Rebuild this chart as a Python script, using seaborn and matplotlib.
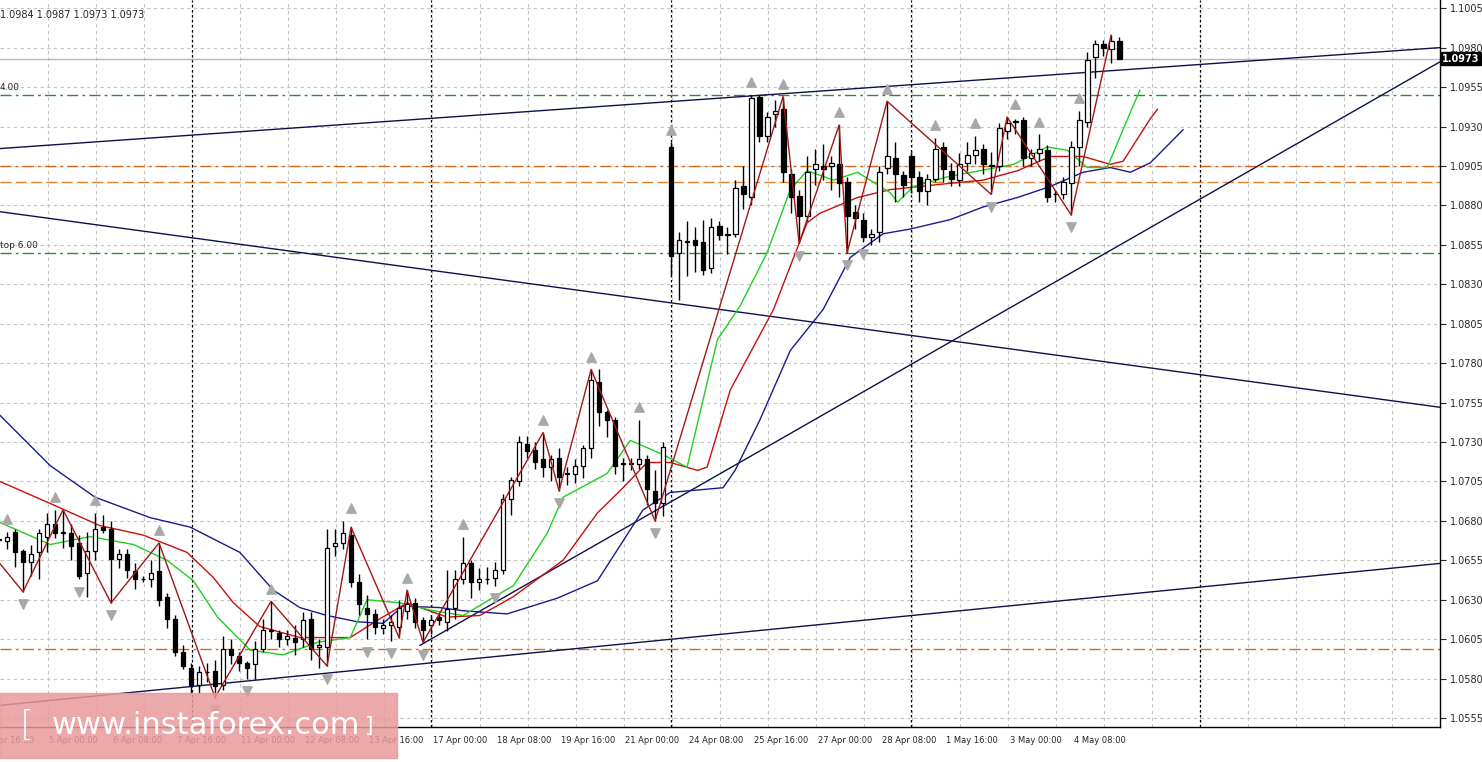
import numpy as np
import matplotlib
matplotlib.use("Agg")
import matplotlib.pyplot as plt
import matplotlib.transforms as mtransforms
import seaborn as sns

# ---- EURUSD H4 candles, index -1..139 ----
idx = list(range(-1, 140))
opens = [1.0668,1.0667,1.0673,1.0661,1.0654,1.0660,1.0670,1.0678,1.0672,1.0672,1.0666,1.0647,1.0661,1.0676,1.0675,1.0656,1.0659,1.0648,1.0643,1.0643,
         1.0648,1.0632,1.0618,1.0597,1.0587,1.0576,1.0584,1.0585,1.0576,1.0599,1.0594,1.0590,1.0589,1.0599,1.0611,1.0609,1.0605,1.0606,1.0605,1.0618,
         1.0600,1.0600,1.0664,1.0666,1.0671,1.0641,1.0625,1.0621,1.0612,1.0614,1.0613,1.0623,1.0628,1.0617,1.0614,1.0619,1.0616,1.0625,1.0643,1.0653,
         1.0641,1.0643,1.0644,1.0649,1.0694,1.0705,1.0729,1.0725,1.0719,1.0714,1.0720,1.0710,1.0710,1.0715,1.0726,1.0768,1.0749,1.0744,1.0716,1.0716,
         1.0716,1.0719,1.0699,1.0691,1.0917,1.0850,1.0857,1.0858,1.0857,1.0840,1.0867,1.0861,1.0862,1.0892,1.0885,1.0949,1.0924,1.0938,1.0941,1.0900,
         1.0886,1.0873,1.0903,1.0905,1.0905,1.0906,1.0895,1.0876,1.0871,1.0860,1.0863,1.0904,1.0910,1.0899,1.0911,1.0898,1.0889,1.0897,1.0917,1.0902,
         1.0896,1.0907,1.0912,1.0916,1.0905,1.0905,1.0927,1.0933,1.0934,1.0910,1.0913,1.0915,1.0887,1.0887,1.0894,1.0917,1.0933,1.0974,1.0982,1.0979,
         1.0984]
highs = [1.0670,1.0673,1.0675,1.0662,1.0665,1.0675,1.0685,1.0687,1.0687,1.0678,1.0671,1.0673,1.0685,1.0684,1.0680,1.0662,1.0662,1.0653,1.0645,1.0655,
         1.0666,1.0634,1.0620,1.0601,1.0590,1.0588,1.0590,1.0592,1.0607,1.0605,1.0597,1.0591,1.0604,1.0618,1.0629,1.0611,1.0611,1.0614,1.0622,1.0622,
         1.0605,1.0675,1.0675,1.0680,1.0676,1.0646,1.0633,1.0624,1.0618,1.0620,1.0630,1.0636,1.0631,1.0619,1.0620,1.0621,1.0649,1.0649,1.0670,1.0655,
         1.0650,1.0651,1.0654,1.0697,1.0708,1.0734,1.0734,1.0730,1.0736,1.0722,1.0726,1.0714,1.0719,1.0728,1.0776,1.0776,1.0750,1.0746,1.0720,1.0720,
         1.0744,1.0722,1.0712,1.0730,1.0920,1.0863,1.0870,1.0866,1.0871,1.0872,1.0870,1.0866,1.0896,1.0905,1.0950,1.0950,1.0939,1.0947,1.0949,1.0903,
         1.0890,1.0911,1.0916,1.0919,1.0911,1.0931,1.0898,1.0880,1.0875,1.0865,1.0905,1.0946,1.0920,1.0902,1.0914,1.0902,1.0900,1.0923,1.0920,1.0907,
         1.0913,1.0920,1.0924,1.0919,1.0914,1.0932,1.0936,1.0935,1.0936,1.0916,1.0925,1.0918,1.0890,1.0898,1.0921,1.0940,1.0977,1.0985,1.0985,1.0988,
         1.0987]
lows = [1.0666,1.0662,1.0651,1.0635,1.0645,1.0643,1.0660,1.0669,1.0663,1.0655,1.0643,1.0632,1.0655,1.0672,1.0628,1.0650,1.0644,1.0637,1.0641,1.0638,
        1.0626,1.0612,1.0594,1.0586,1.0570,1.0571,1.0578,1.0568,1.0573,1.0589,1.0585,1.0580,1.0580,1.0597,1.0605,1.0600,1.0601,1.0595,1.0600,1.0592,
        1.0587,1.0588,1.0658,1.0662,1.0638,1.0620,1.0605,1.0608,1.0608,1.0604,1.0606,1.0618,1.0612,1.0603,1.0608,1.0614,1.0610,1.0618,1.0640,1.0631,
        1.0636,1.0640,1.0639,1.0646,1.0684,1.0702,1.0720,1.0713,1.0708,1.0705,1.0699,1.0703,1.0704,1.0707,1.0720,1.0740,1.0733,1.0710,1.0705,1.0712,
        1.0713,1.0690,1.0680,1.0683,1.0835,1.0820,1.0835,1.0838,1.0836,1.0837,1.0858,1.0849,1.0860,1.0878,1.0880,1.0920,1.0920,1.0930,1.0895,1.0875,
        1.0856,1.0870,1.0893,1.0896,1.0890,1.0885,1.0850,1.0865,1.0857,1.0855,1.0857,1.0900,1.0882,1.0885,1.0888,1.0882,1.0880,1.0895,1.0895,1.0892,
        1.0892,1.0902,1.0906,1.0900,1.0887,1.0902,1.0922,1.0925,1.0905,1.0905,1.0908,1.0882,1.0882,1.0884,1.0874,1.0905,1.0930,1.0961,1.0975,1.0970,
        1.0973]
closes = [1.0668,1.0670,1.0660,1.0654,1.0659,1.0672,1.0678,1.0672,1.0673,1.0664,1.0645,1.0661,1.0675,1.0674,1.0656,1.0659,1.0649,1.0643,1.0643,1.0647,
          1.0630,1.0618,1.0597,1.0588,1.0576,1.0584,1.0584,1.0575,1.0599,1.0595,1.0590,1.0587,1.0599,1.0611,1.0610,1.0605,1.0607,1.0603,1.0617,1.0599,
          1.0601,1.0663,1.0666,1.0672,1.0641,1.0627,1.0621,1.0613,1.0614,1.0616,1.0625,1.0627,1.0616,1.0611,1.0617,1.0617,1.0624,1.0643,1.0653,1.0641,
          1.0643,1.0643,1.0649,1.0694,1.0706,1.0730,1.0724,1.0717,1.0714,1.0719,1.0708,1.0710,1.0715,1.0726,1.0769,1.0749,1.0744,1.0715,1.0716,1.0716,
          1.0719,1.0700,1.0691,1.0727,1.0848,1.0858,1.0857,1.0855,1.0839,1.0866,1.0861,1.0862,1.0891,1.0887,1.0948,1.0924,1.0936,1.0940,1.0901,1.0885,
          1.0873,1.0901,1.0906,1.0903,1.0907,1.0894,1.0873,1.0872,1.0860,1.0862,1.0901,1.0911,1.0900,1.0893,1.0898,1.0889,1.0897,1.0916,1.0903,1.0897,
          1.0906,1.0912,1.0915,1.0906,1.0905,1.0929,1.0932,1.0933,1.0910,1.0913,1.0916,1.0885,1.0887,1.0895,1.0917,1.0934,1.0972,1.0982,1.0980,1.0984,
          1.0973]

# ---- Alligator lines ----
jaw_x = [-0.9,5.4,11,17.9,22.9,29.1,33.3,36.6,40,43.8,47,49.5,54.1,57,62.5,68.8,73.8,79.5,82.9,89.5,91,94.1,97.9,102,105.4,109.5,112.9,117.9,122,126.3,130.4,134.5,137.9,140.4,142.9,147]
jaw_y = [1.0747,1.0715,1.0695,1.0682,1.0676,1.0660,1.0636,1.0625,1.0620,1.0616,1.0615,1.0626,1.0625,1.0623,1.0621,1.0631,1.0642,1.0687,1.0698,1.0701,1.0712,1.0744,1.0788,1.0814,1.0847,1.0862,1.0865,1.0871,1.0879,1.0885,1.0892,1.0901,1.0904,1.0901,1.0907,1.0928]
teeth_x = [-0.9,5.4,11.6,17,22.5,25.8,28.3,31.6,36.6,42.9,46.3,50,55,59.1,63.3,69.5,73.8,77,80,82.9,86.3,87.5,90.4,95.8,100,101.6,106.3,110.4,117.9,122,126.3,130.4,134.5,137.9,139.5,142.9,143.8]
teeth_y = [1.0705,1.0691,1.0677,1.0671,1.0660,1.0644,1.0628,1.0613,1.0606,1.0606,1.0617,1.0628,1.0619,1.0620,1.0632,1.0655,1.0685,1.0701,1.0717,1.0717,1.0712,1.0714,1.0763,1.0814,1.0869,1.0875,1.0885,1.0890,1.0894,1.0896,1.0902,1.0911,1.0911,1.0906,1.0908,1.0935,1.0941]
lips_x = [-0.9,5.4,10.4,15.8,20,23.3,26.3,30.4,34.5,38.8,42.9,45,49.1,53.3,57,63.3,67.5,69.5,75,77.9,82,85,86.3,88.8,91.6,95,97.9,100,103.3,106.3,110.4,111.3,113.3,117.5,121.6,125.8,130,132.5,135,137.5,140.4,141.6]
lips_y = [1.0679,1.0665,1.0670,1.0665,1.0655,1.0642,1.0619,1.0598,1.0595,1.0603,1.0606,1.0630,1.0628,1.0623,1.0620,1.0639,1.0672,1.0695,1.0710,1.0731,1.0722,1.0714,1.0742,1.0795,1.0816,1.0850,1.0890,1.0902,1.0896,1.0901,1.0888,1.0882,1.0892,1.0898,1.0902,1.0906,1.0917,1.0915,1.0904,1.0904,1.0939,1.0953]

# ---- ZigZag ----
zz_x = [-0.9,2,7,13,19,26,33,40,43,49,50,52,67,69,73,81,97,99,104,105,110,123,125,133,138]
zz_y = [1.0653,1.0635,1.0687,1.0628,1.0666,1.0568,1.0629,1.0588,1.0676,1.0606,1.0636,1.0603,1.0736,1.0699,1.0776,1.0680,1.0949,1.0856,1.0931,1.0850,1.0946,1.0887,1.0936,1.0874,1.0988]
frac_up_x = [0,6,11,19,33,43,50,57,67,73,79,83,93,97,104,110,116,121,126,129,134]
frac_up_y = [1.0673,1.0687,1.0685,1.0666,1.0629,1.0680,1.0636,1.0670,1.0736,1.0776,1.0744,1.0920,1.0950,1.0949,1.0931,1.0946,1.0923,1.0924,1.0936,1.0925,1.0940]
frac_dn_x = [2,9,13,26,30,40,45,48,52,61,69,81,99,105,107,123,133]
frac_dn_y = [1.0635,1.0643,1.0628,1.0568,1.0580,1.0588,1.0605,1.0604,1.0603,1.0639,1.0699,1.0680,1.0856,1.0850,1.0857,1.0887,1.0874]

# ---- trend lines (index, price at both ends) ----
trend_lines = [((-0.9, 1.0916), (179.1, 1.0980)),
               ((-0.9, 1.0876), (179.1, 1.0752)),
               ((51.6, 1.0601), (179.1, 1.0971)),
               ((-0.9, 1.0563), (179.1, 1.0653))]
hlines = [(1.0950, '#2e8b2e', (0, (8, 3, 2, 3))), (1.0850, '#2e8b2e', (0, (8, 3, 2, 3))),
          (1.0905, '#d2691e', (0, (8, 3, 2, 3))), (1.0895, '#e08030', (0, (8, 3))),
          (1.0599, '#d2691e', (0, (8, 3, 2, 3)))]
separators = [23.1, 53, 83, 113, 149.1]
price_ticks = [round(1.0555 + 0.0025 * k, 4) for k in range(19)]
date_pos = [-3 + 8 * k for k in range(18)]
date_labels = ["4 Apr 16:00", "5 Apr 00:00", "6 Apr 08:00", "7 Apr 16:00", "11 Apr 00:00", "12 Apr 08:00",
               "13 Apr 16:00", "17 Apr 00:00", "18 Apr 08:00", "19 Apr 16:00", "21 Apr 00:00", "24 Apr 08:00",
               "25 Apr 16:00", "27 Apr 00:00", "28 Apr 08:00", "1 May 16:00", "3 May 00:00", "4 May 08:00"]

sns.set_style("white")
plt.rcParams['font.family'] = ['DejaVu Sans']
fig = plt.figure(figsize=(14.82, 7.62), dpi=100)
ax = fig.add_axes([0, 35 / 762, 1440 / 1482, 727 / 762])

# grid
for g in np.arange(5.125, 179, 6):
    ax.axvline(g, color='#c4c4c4', lw=0.8, ls=(0, (3, 3)), zorder=0)
for p in price_ticks:
    ax.axhline(p, color='#c4c4c4', lw=0.8, ls=(0, (3, 3)), zorder=0)
for s in separators:
    ax.axvline(s, color='black', lw=0.9, ls=(0, (2, 2)), zorder=1)

for p, c, ls in hlines:
    ax.axhline(p, color=c, lw=1.0, ls=ls, zorder=1)
ax.axhline(1.0973, color='#b8b8b8', lw=1.0, zorder=1)

for (x0, y0), (x1, y1) in trend_lines:
    ax.plot([x0, x1], [y0, y1], color='#10104a', lw=1.0, zorder=2)

# alligator
sns.lineplot(x=jaw_x, y=jaw_y, sort=False, color='#1a1a8c', lw=1.0, ax=ax, zorder=3)
sns.lineplot(x=teeth_x, y=teeth_y, sort=False, color='#c81010', lw=1.0, ax=ax, zorder=3)
sns.lineplot(x=lips_x, y=lips_y, sort=False, color='#20d020', lw=1.0, ax=ax, zorder=3)

# candles
o = np.array(opens); c = np.array(closes); h = np.array(highs); l = np.array(lows)
ix = np.array(idx)
ax.vlines(ix, l, h, color='black', lw=1.0, zorder=4)
up = c >= o
body = np.maximum(np.abs(c - o), 0.00004)
ax.bar(ix[up], body[up], bottom=np.minimum(o, c)[up], width=0.6, color='white', edgecolor='black', lw=0.9, zorder=5)
ax.bar(ix[~up], body[~up], bottom=np.minimum(o, c)[~up], width=0.6, color='black', edgecolor='black', lw=0.9, zorder=5)

# zigzag + fractals
sns.lineplot(x=zz_x, y=zz_y, sort=False, color='#a01818', lw=1.0, ax=ax, zorder=6)
ax.scatter(frac_up_x, np.array(frac_up_y) + 0.0008, marker='^', s=45, color='#a8a8a8', zorder=6)
ax.scatter(frac_dn_x, np.array(frac_dn_y) - 0.0008, marker='v', s=45, color='#a8a8a8', zorder=6)

# axes look
for sp in ['left', 'top']:
    ax.spines[sp].set_visible(False)
for sp in ['right', 'bottom']:
    ax.spines[sp].set_color('black'); ax.spines[sp].set_linewidth(1.0)
ax.yaxis.tick_right()
ax.set_yticks(price_ticks)
ax.set_yticklabels([f"{p:.4f}" for p in price_ticks], fontsize=7)
ax.tick_params(axis='y', length=4, pad=3)
ax.set_xticks(date_pos)
ax.set_xticklabels([])
ax.tick_params(axis='x', length=4)
ax.set_xlim(-0.875, 179.1)
ax.set_ylim(1.05493, 1.10102)

trans = mtransforms.blended_transform_factory(ax.transData, ax.transAxes)
for xp, lab in zip(date_pos, date_labels):
    ax.text(xp + 0.3, -0.013, lab, transform=trans, fontsize=6.0, ha='left', va='top', clip_on=False)

ax.text(179.4, 1.0973, "1.0973", fontsize=7, color='white', fontweight='bold', va='center', ha='left',
        bbox=dict(boxstyle='square,pad=0.15', fc='black', ec='black'), clip_on=False)
ax.text(-0.9, 1.1004, "1.0984 1.0987 1.0973 1.0973", fontsize=7, va='top', ha='left')
ax.text(-0.9, 1.0952, "4.00", fontsize=6.5, va='bottom', ha='left')
ax.text(-0.9, 1.0852, "top 6.00", fontsize=6.5, va='bottom', ha='left')

# watermark
fig.patches.append(plt.Rectangle((0, 4 / 762), 397 / 1482, 65 / 762, transform=fig.transFigure,
                                 color='#e89a9a', alpha=0.85, zorder=10))
fig.text(20 / 1482, 36 / 762, "[", fontsize=26, color='white', fontweight='light', va='center', ha='left', zorder=11)
fig.text(52 / 1482, 36 / 762, "www.instaforex.com", fontsize=22, color='white', va='center', ha='left', zorder=11)
fig.text(365 / 1482, 36 / 762, "]", fontsize=16, color='white', va='center', ha='left', zorder=11)

fig.savefig("out.png", dpi=100)
